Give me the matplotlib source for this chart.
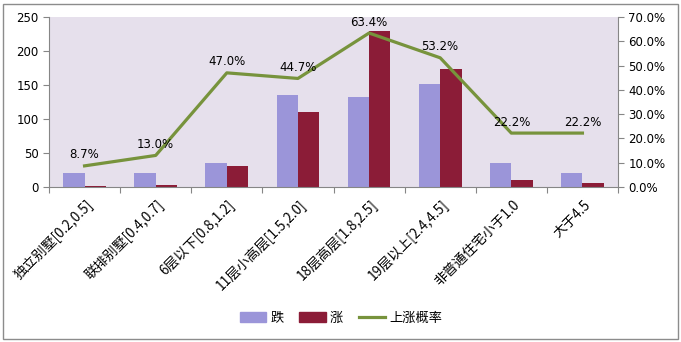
import numpy as np
import matplotlib.pyplot as plt
from matplotlib.patches import Rectangle
from matplotlib.lines import Line2D
from matplotlib.ticker import FuncFormatter

plt.rcParams['font.family'] = ['Noto Sans CJK SC', 'DejaVu Sans']

# 数据
categories = ['独立别墅[0.2,0.5]', '联排别墅[0.4,0.7]', '6层以下[0.8,1.2]', '11层小高层[1.5,2.0]',
              '18层高层[1.8,2.5]', '19层以上[2.4,4.5]', '非普通住宅小于1.0', '大于4.5']
down = [21, 21, 35, 135, 132, 152, 35, 21]
up = [2, 3, 31, 110, 229, 173, 10, 6]
rate = [8.7, 13.0, 47.0, 44.7, 63.4, 53.2, 22.2, 22.2]

c_down = '#9B95D9'
c_up = '#8B1C37'
c_line = '#77933C'
c_axis = '#868686'
num_font = ['DejaVu Sans']

fig = plt.figure(figsize=(6.81, 3.42), dpi=100)
fig.patch.set_facecolor('white')
# 图表外框
fig.add_artist(Rectangle((3 / 681, 3 / 342), 675 / 681, 335 / 342, transform=fig.transFigure,
                         fill=False, edgecolor='#8C8C8C', linewidth=1))

ax = fig.add_axes([49 / 681, 1 - 187 / 342, 569 / 681, 170 / 342])
ax.set_facecolor('#E6E0EC')
x = np.arange(len(categories))
w = 0.3
ax.bar(x - w / 2, down, w, color=c_down, label='跌', zorder=2)
ax.bar(x + w / 2, up, w, color=c_up, label='涨', zorder=2)
ax.set_xlim(-0.5, len(categories) - 0.5)
ax.set_ylim(0, 250)
ax.set_yticks(np.arange(0, 251, 50))
ax.set_xticks(np.arange(-0.5, len(categories), 1))
ax.set_xticklabels([])
ax.tick_params(axis='both', colors=c_axis, labelcolor='black', labelsize=8.5, length=4, width=0.8)
for t in ax.get_yticklabels():
    t.set_family(num_font)
for s in ['top', 'right']:
    ax.spines[s].set_visible(False)
for s in ['left', 'bottom']:
    ax.spines[s].set_color(c_axis)

# 类别标签（旋转45度）
for i, lab in enumerate(categories):
    ax.text(i + 0.08, -23, lab, rotation=45, rotation_mode='anchor', ha='right', va='center',
            fontsize=9.8, fontweight='medium', transform=ax.transData, clip_on=False)

ax2 = ax.twinx()
ax2.plot(x, [r / 100 for r in rate], color=c_line, linewidth=2.3, zorder=3)
ax2.set_ylim(0, 0.7)
ax2.set_yticks(np.arange(0, 0.71, 0.1))
ax2.yaxis.set_major_formatter(FuncFormatter(lambda v, p: f'{v * 100:.1f}%'))
ax2.tick_params(axis='y', colors=c_axis, labelcolor='black', labelsize=8.5, length=4, width=0.8)
for t in ax2.get_yticklabels():
    t.set_family(num_font)
for s in ['top', 'left', 'bottom']:
    ax2.spines[s].set_visible(False)
ax2.spines['right'].set_color(c_axis)
for i, r in enumerate(rate):
    ax2.text(i, r / 100 + 0.045, f'{r:.1f}%', ha='center', va='center', fontsize=8.5, family=num_font)

handles = [Rectangle((0, 0), 1, 1, color=c_down), Rectangle((0, 0), 1, 1, color=c_up),
           Line2D([], [], color=c_line, linewidth=2.3)]
fig.legend(handles, ['跌', '涨', '上涨概率'], loc='center', bbox_to_anchor=(341 / 681, 1 - 318 / 342),
           ncol=3, frameon=False, fontsize=9.5, handlelength=2.0, handleheight=0.7,
           columnspacing=1.2, handletextpad=0.3)

fig.savefig('out.png', dpi=100)
